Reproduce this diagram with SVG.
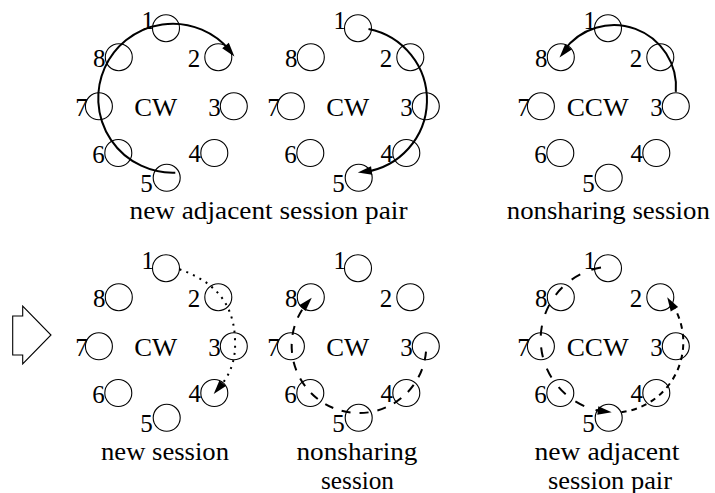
<svg xmlns="http://www.w3.org/2000/svg" xmlns:xlink="http://www.w3.org/1999/xlink" width="715" height="493" viewBox="0 0 715 493">
<defs>
<style>
.nd circle{fill:none;stroke:#000;stroke-width:1.1}
text{font-family:'Liberation Serif','DejaVu Serif',serif;font-size:25px;fill:#000}
.lb{text-anchor:end}
.mid{text-anchor:middle}
.arc{fill:none;stroke:#000;stroke-width:2}
.dot{stroke-dasharray:2 5.3}
.dash{stroke-dasharray:9 9}
.dashl{stroke-dasharray:10 12}
.dashs{stroke-dasharray:5.5 5}
.blk{fill:#fff;stroke:#000;stroke-width:1.1}
</style>
<path id="ah" d="M0,0 L-14,-4.3 L-14,4.3 Z" fill="#000"/>
</defs>
<rect width="715" height="493" fill="#fff"/>

<g id="panel-a">
<g id="a-n1" class="nd"><circle cx="166" cy="28.2" r="13.5"/><text class="lb" x="154" y="29">1</text></g>
<g id="a-n2" class="nd"><circle cx="218.3" cy="57.2" r="13.5"/><text class="lb" x="200.3" y="66.7">2</text></g>
<g id="a-n3" class="nd"><circle cx="233.8" cy="106.3" r="13.5"/><text class="lb" x="220.7" y="115.8">3</text></g>
<g id="a-n4" class="nd"><circle cx="214.3" cy="153" r="13.5"/><text class="lb" x="201" y="162.3">4</text></g>
<g id="a-n5" class="nd"><circle cx="166.7" cy="177.8" r="13.5"/><text class="lb" x="152.8" y="191.5">5</text></g>
<g id="a-n6" class="nd"><circle cx="118.3" cy="153" r="13.5"/><text class="lb" x="104.8" y="162.5">6</text></g>
<g id="a-n7" class="nd"><circle cx="98.9" cy="106.3" r="13.5"/><text class="lb" x="87.7" y="115.8">7</text></g>
<g id="a-n8" class="nd"><circle cx="118.8" cy="57.2" r="13.5"/><text class="lb" x="105.4" y="66.7">8</text></g>
<text class="mid" x="155.7" y="115.5" textLength="43" lengthAdjust="spacingAndGlyphs">CW</text>
</g>

<g id="panel-b" transform="translate(192,0)">
<g id="b-n1" class="nd"><circle cx="166" cy="28.2" r="13.5"/><text class="lb" x="154" y="29">1</text></g>
<g id="b-n2" class="nd"><circle cx="218.3" cy="57.2" r="13.5"/><text class="lb" x="200.3" y="66.7">2</text></g>
<g id="b-n3" class="nd"><circle cx="233.8" cy="106.3" r="13.5"/><text class="lb" x="220.7" y="115.8">3</text></g>
<g id="b-n4" class="nd"><circle cx="214.3" cy="153" r="13.5"/><text class="lb" x="201" y="162.3">4</text></g>
<g id="b-n5" class="nd"><circle cx="166.7" cy="177.8" r="13.5"/><text class="lb" x="152.8" y="191.5">5</text></g>
<g id="b-n6" class="nd"><circle cx="118.3" cy="153" r="13.5"/><text class="lb" x="104.8" y="162.5">6</text></g>
<g id="b-n7" class="nd"><circle cx="98.9" cy="106.3" r="13.5"/><text class="lb" x="87.7" y="115.8">7</text></g>
<g id="b-n8" class="nd"><circle cx="118.8" cy="57.2" r="13.5"/><text class="lb" x="105.4" y="66.7">8</text></g>
<text class="mid" x="155.7" y="115.5" textLength="43" lengthAdjust="spacingAndGlyphs">CW</text>
</g>

<g id="panel-c" transform="translate(442,0)">
<g id="c-n1" class="nd"><circle cx="166" cy="28.2" r="13.5"/><text class="lb" x="154" y="29">1</text></g>
<g id="c-n2" class="nd"><circle cx="218.3" cy="57.2" r="13.5"/><text class="lb" x="200.3" y="66.7">2</text></g>
<g id="c-n3" class="nd"><circle cx="233.8" cy="106.3" r="13.5"/><text class="lb" x="220.7" y="115.8">3</text></g>
<g id="c-n4" class="nd"><circle cx="214.3" cy="153" r="13.5"/><text class="lb" x="201" y="162.3">4</text></g>
<g id="c-n5" class="nd"><circle cx="166.7" cy="177.8" r="13.5"/><text class="lb" x="152.8" y="191.5">5</text></g>
<g id="c-n6" class="nd"><circle cx="118.3" cy="153" r="13.5"/><text class="lb" x="104.8" y="162.5">6</text></g>
<g id="c-n7" class="nd"><circle cx="98.9" cy="106.3" r="13.5"/><text class="lb" x="87.7" y="115.8">7</text></g>
<g id="c-n8" class="nd"><circle cx="118.8" cy="57.2" r="13.5"/><text class="lb" x="105.4" y="66.7">8</text></g>
<text class="mid" x="155.7" y="115.5" textLength="62" lengthAdjust="spacingAndGlyphs">CCW</text>
</g>

<g id="panel-d" transform="translate(0,240)">
<g id="d-n1" class="nd"><circle cx="166" cy="28.2" r="13.5"/><text class="lb" x="154" y="29">1</text></g>
<g id="d-n2" class="nd"><circle cx="218.3" cy="57.2" r="13.5"/><text class="lb" x="200.3" y="66.7">2</text></g>
<g id="d-n3" class="nd"><circle cx="233.8" cy="106.3" r="13.5"/><text class="lb" x="220.7" y="115.8">3</text></g>
<g id="d-n4" class="nd"><circle cx="214.3" cy="153" r="13.5"/><text class="lb" x="201" y="162.3">4</text></g>
<g id="d-n5" class="nd"><circle cx="166.7" cy="177.8" r="13.5"/><text class="lb" x="152.8" y="191.5">5</text></g>
<g id="d-n6" class="nd"><circle cx="118.3" cy="153" r="13.5"/><text class="lb" x="104.8" y="162.5">6</text></g>
<g id="d-n7" class="nd"><circle cx="98.9" cy="106.3" r="13.5"/><text class="lb" x="87.7" y="115.8">7</text></g>
<g id="d-n8" class="nd"><circle cx="118.8" cy="57.2" r="13.5"/><text class="lb" x="105.4" y="66.7">8</text></g>
<text class="mid" x="155.7" y="115.5" textLength="43" lengthAdjust="spacingAndGlyphs">CW</text>
</g>

<g id="panel-e" transform="translate(192,240)">
<g id="e-n1" class="nd"><circle cx="166" cy="28.2" r="13.5"/><text class="lb" x="154" y="29">1</text></g>
<g id="e-n2" class="nd"><circle cx="218.3" cy="57.2" r="13.5"/><text class="lb" x="200.3" y="66.7">2</text></g>
<g id="e-n3" class="nd"><circle cx="233.8" cy="106.3" r="13.5"/><text class="lb" x="220.7" y="115.8">3</text></g>
<g id="e-n4" class="nd"><circle cx="214.3" cy="153" r="13.5"/><text class="lb" x="201" y="162.3">4</text></g>
<g id="e-n5" class="nd"><circle cx="166.7" cy="177.8" r="13.5"/><text class="lb" x="152.8" y="191.5">5</text></g>
<g id="e-n6" class="nd"><circle cx="118.3" cy="153" r="13.5"/><text class="lb" x="104.8" y="162.5">6</text></g>
<g id="e-n7" class="nd"><circle cx="98.9" cy="106.3" r="13.5"/><text class="lb" x="87.7" y="115.8">7</text></g>
<g id="e-n8" class="nd"><circle cx="118.8" cy="57.2" r="13.5"/><text class="lb" x="105.4" y="66.7">8</text></g>
<text class="mid" x="155.7" y="115.5" textLength="43" lengthAdjust="spacingAndGlyphs">CW</text>
</g>

<g id="panel-f" transform="translate(442,240)">
<g id="f-n1" class="nd"><circle cx="166" cy="28.2" r="13.5"/><text class="lb" x="154" y="29">1</text></g>
<g id="f-n2" class="nd"><circle cx="218.3" cy="57.2" r="13.5"/><text class="lb" x="200.3" y="66.7">2</text></g>
<g id="f-n3" class="nd"><circle cx="233.8" cy="106.3" r="13.5"/><text class="lb" x="220.7" y="115.8">3</text></g>
<g id="f-n4" class="nd"><circle cx="214.3" cy="153" r="13.5"/><text class="lb" x="201" y="162.3">4</text></g>
<g id="f-n5" class="nd"><circle cx="166.7" cy="177.8" r="13.5"/><text class="lb" x="152.8" y="191.5">5</text></g>
<g id="f-n6" class="nd"><circle cx="118.3" cy="153" r="13.5"/><text class="lb" x="104.8" y="162.5">6</text></g>
<g id="f-n7" class="nd"><circle cx="98.9" cy="106.3" r="13.5"/><text class="lb" x="87.7" y="115.8">7</text></g>
<g id="f-n8" class="nd"><circle cx="118.8" cy="57.2" r="13.5"/><text class="lb" x="105.4" y="66.7">8</text></g>
<text class="mid" x="155.7" y="115.5" textLength="62" lengthAdjust="spacingAndGlyphs">CCW</text>
</g>

<g id="connectors">
<path class="arc" d="M175.3,172.65 A74.5,74.5 0 1 1 229.8,50.3"/>
<use xlink:href="#ah" href="#ah" transform="translate(234.4,56.4) rotate(50.5)"/>
<path class="arc" d="M368.5,28.9 A72.6,72.6 0 0 1 364.5,172"/>
<use xlink:href="#ah" href="#ah" transform="translate(357.8,172.6) rotate(171.8)"/>
<path class="arc" d="M675.8,91.8 A62,62 0 0 0 563.8,50.6"/>
<use xlink:href="#ah" href="#ah" transform="translate(559.5,57.4) rotate(130)"/>
<path class="arc dot" d="M179.5,269.3 C207,279 234,297 235,340 C236,358 231,372 222.7,383.3"/>
<use xlink:href="#ah" href="#ah" transform="translate(213.7,394) rotate(130)"/>
<path class="arc dash" d="M426,351.6 A67.3,67.3 0 1 1 306.7,303.35"/>
<use xlink:href="#ah" href="#ah" transform="translate(311.75,297.8) rotate(-48)"/>
<path class="arc dashl" d="M601,267.4 A73,73 0 0 0 604.8,411.75"/>
<use xlink:href="#ah" href="#ah" transform="translate(611.7,412.3) rotate(7.4)"/>
<path class="arc dashs" d="M621.3,412.2 A70.6,70.6 0 0 0 671.2,302.6"/>
<use xlink:href="#ah" href="#ah" transform="translate(667.2,297.2) rotate(-121)"/>
</g>

<g id="transition-arrow">
<polygon class="blk" points="12.7,316 22.7,316 22.7,306 51,335 22.7,364 22.7,355 12.7,355"/>
</g>

<g id="captions">
<text class="mid" x="268.5" y="219" textLength="278" lengthAdjust="spacingAndGlyphs">new adjacent session pair</text>
<text class="mid" x="608.3" y="219" textLength="203" lengthAdjust="spacingAndGlyphs">nonsharing session</text>
<text class="mid" x="165" y="460" textLength="128" lengthAdjust="spacingAndGlyphs">new session</text>
<text class="mid" x="357" y="460" textLength="121" lengthAdjust="spacingAndGlyphs">nonsharing</text>
<text class="mid" x="357.5" y="489" textLength="73" lengthAdjust="spacingAndGlyphs">session</text>
<text class="mid" x="607" y="460" textLength="145" lengthAdjust="spacingAndGlyphs">new adjacent</text>
<text class="mid" x="610" y="489" textLength="124" lengthAdjust="spacingAndGlyphs">session pair</text>
</g>
</svg>
